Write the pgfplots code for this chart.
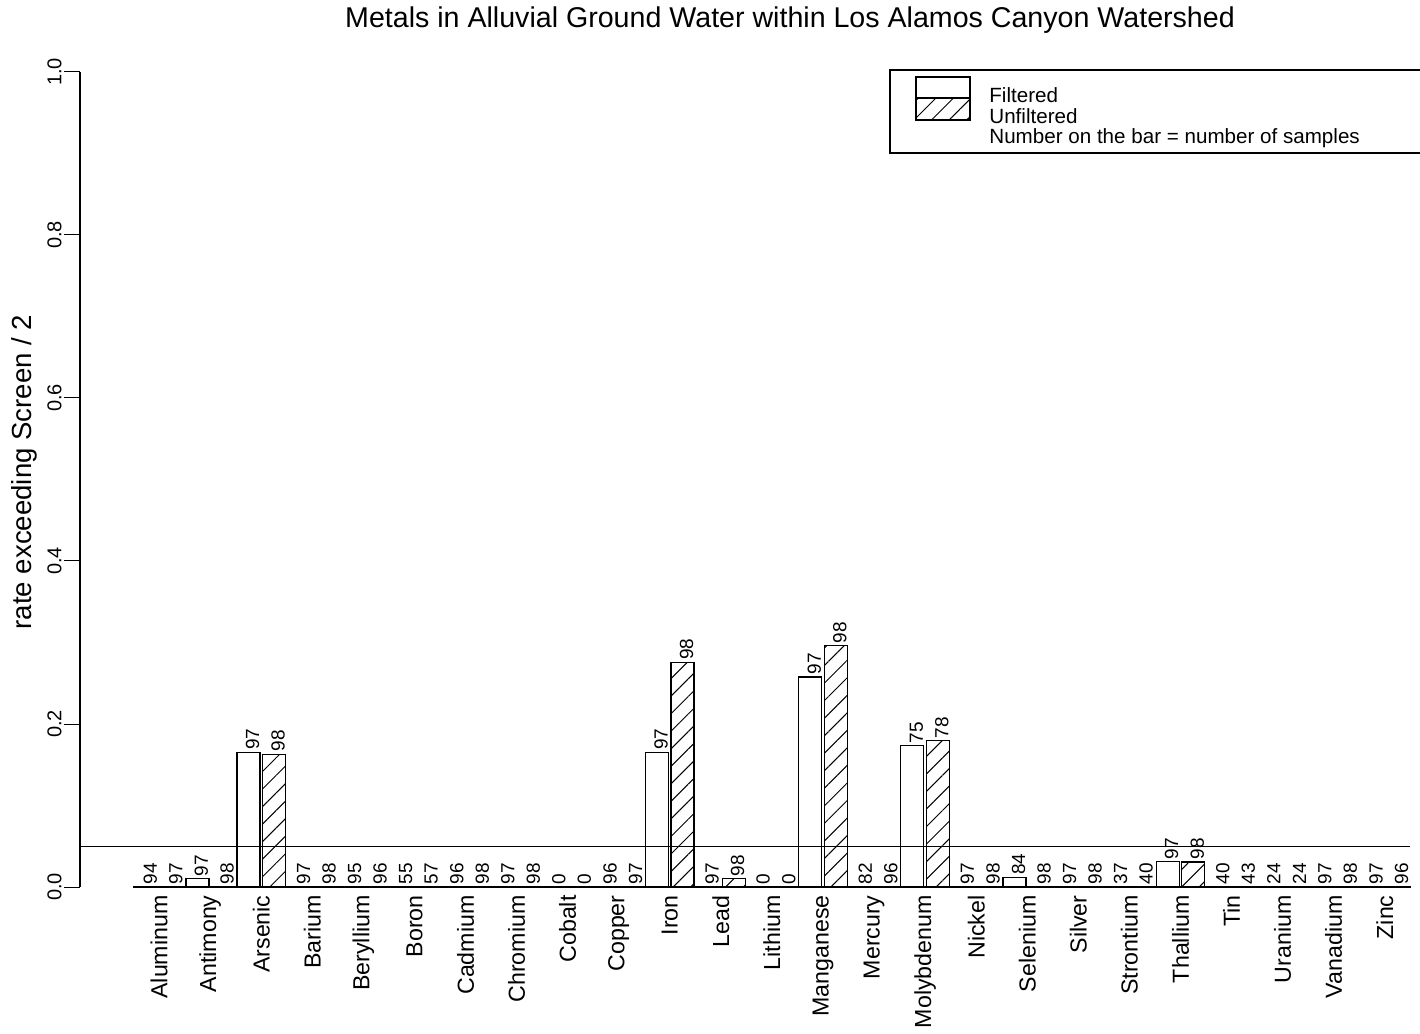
\documentclass[border=0pt]{standalone}
\usepackage{pgfplots}
\pgfplotsset{compat=1.18}
\usepackage{pgfplotstable}
\usepackage{fontspec}
\setmainfont{Liberation Sans}
\usetikzlibrary{patterns.meta}

\pgfplotstableread{
xf xu f nf u nu
0 1 0 94 0 97
2 3 0.0103 97 0 98
4 5 0.165 97 0.163 98
6 7 0 97 0 98
8 9 0 95 0 96
10 11 0 55 0 57
12 13 0 96 0 98
14 15 0 97 0 98
16 17 0 0 0 0
18 19 0 96 0 97
20 21 0.165 97 0.2755 98
22 23 0 97 0.0102 98
24 25 0 0 0 0
26 27 0.2577 97 0.2959 98
28 29 0 82 0 96
30 31 0.1733 75 0.1795 78
32 33 0 97 0 98
34 35 0.0119 84 0 98
36 37 0 97 0 98
38 39 0 37 0 40
40 41 0.0309 97 0.0306 98
42 43 0 40 0 43
44 45 0 24 0 24
46 47 0 97 0 98
48 49 0 97 0 96
}\data

\tikzset{hatch/.style={pattern={Lines[angle=45,distance=6.2pt,line width=0.5pt]},pattern color=black}}

\begin{document}
\begin{tikzpicture}
\begin{axis}[
  scale only axis, width=665pt, height=407.5pt,
  xmin=-2.60, xmax=49.49, ymin=0, ymax=1,
  axis y line*=left, axis x line*=bottom,
  x axis line style={draw=none},
  y axis line style={line width=1.4pt},
  ytick={0,0.2,0.4,0.6,0.8,1.0},
  yticklabels={0.0,0.2,0.4,0.6,0.8,1.0},
  ytick style={line width=0.5pt, black},
  major tick length=8pt,
  tick align=outside,
  yticklabel style={rotate=90, anchor=south, inner sep=1pt, font=\fontsize{10}{12}\selectfont},
  xtick={0.5,2.5,4.5,6.5,8.5,10.5,12.5,14.5,16.5,18.5,20.5,22.5,24.5,26.5,28.5,30.5,32.5,34.5,36.5,38.5,40.5,42.5,44.5,46.5,48.5},
  xticklabels={Aluminum,Antimony,Arsenic,Barium,Beryllium,Boron,Cadmium,Chromium,Cobalt,Copper,Iron,Lead,Lithium,Manganese,Mercury,Molybdenum,Nickel,Selenium,Silver,Strontium,Thallium,Tin,Uranium,Vanadium,Zinc},
  xtick style={draw=none},
  xticklabel style={yshift=5pt, rotate=90, anchor=east, inner sep=1pt, font=\fontsize{11.6}{14}\selectfont},
  clip=false,
  every node near coord/.append style={xshift=2pt, rotate=90, anchor=west, inner sep=1pt, font=\fontsize{9.5}{11}\selectfont},
]
\addplot[ybar, bar width=0.9, bar shift=0pt, fill=white, draw=black, line width=0.6pt,
  point meta=explicit symbolic, nodes near coords] table[x=xf, y=f, meta=nf] {\data};
\addplot[ybar, bar width=0.9, bar shift=0pt, fill=white, draw=black, line width=0.6pt, hatch,
  point meta=explicit symbolic, nodes near coords] table[x=xu, y=u, meta=nu] {\data};
\addplot[black, line width=0.65pt] coordinates {(-2.60,0.05) (49.49,0.05)};
\draw[line width=1pt] (axis cs:-0.52,0) -- (axis cs:49.53,0);
\coordinate (bl) at (rel axis cs:0,0);
\coordinate (tr) at (rel axis cs:1,1);
\end{axis}
\begin{scope}[shift={([xshift=-40pt,yshift=443.5pt]bl)}, x=0.5pt, y=-0.5pt]
  \node[anchor=base, font=\fontsize{14.3}{17}\selectfont, inner sep=0pt] at (790,28) {Metals in Alluvial Ground Water within Los Alamos Canyon Watershed};
  \node[anchor=base, rotate=90, font=\fontsize{13.8}{17}\selectfont, inner sep=0pt] at (32,472) {rate exceeding Screen / 2};
  \draw[line width=0.6pt, fill=white] (890,70) rectangle (1424,153);
  \draw[line width=0.6pt] (916,77) rectangle (970,98);
  \draw[line width=0.6pt, hatch] (916,98) rectangle (970,120);
  \begin{scope}[every node/.style={anchor=west, inner sep=0pt, font=\fontsize{10.3}{12}\selectfont}]
    \node at (989,95) {Filtered};
    \node at (989,116) {Unfiltered};
    \node at (989,138) {Number on the bar = number of samples};
  \end{scope}
\end{scope}
\pgfresetboundingbox
\useasboundingbox ([xshift=-40pt,yshift=-73.5pt]bl) rectangle ([xshift=5pt,yshift=36pt]tr);
\end{tikzpicture}
\end{document}
